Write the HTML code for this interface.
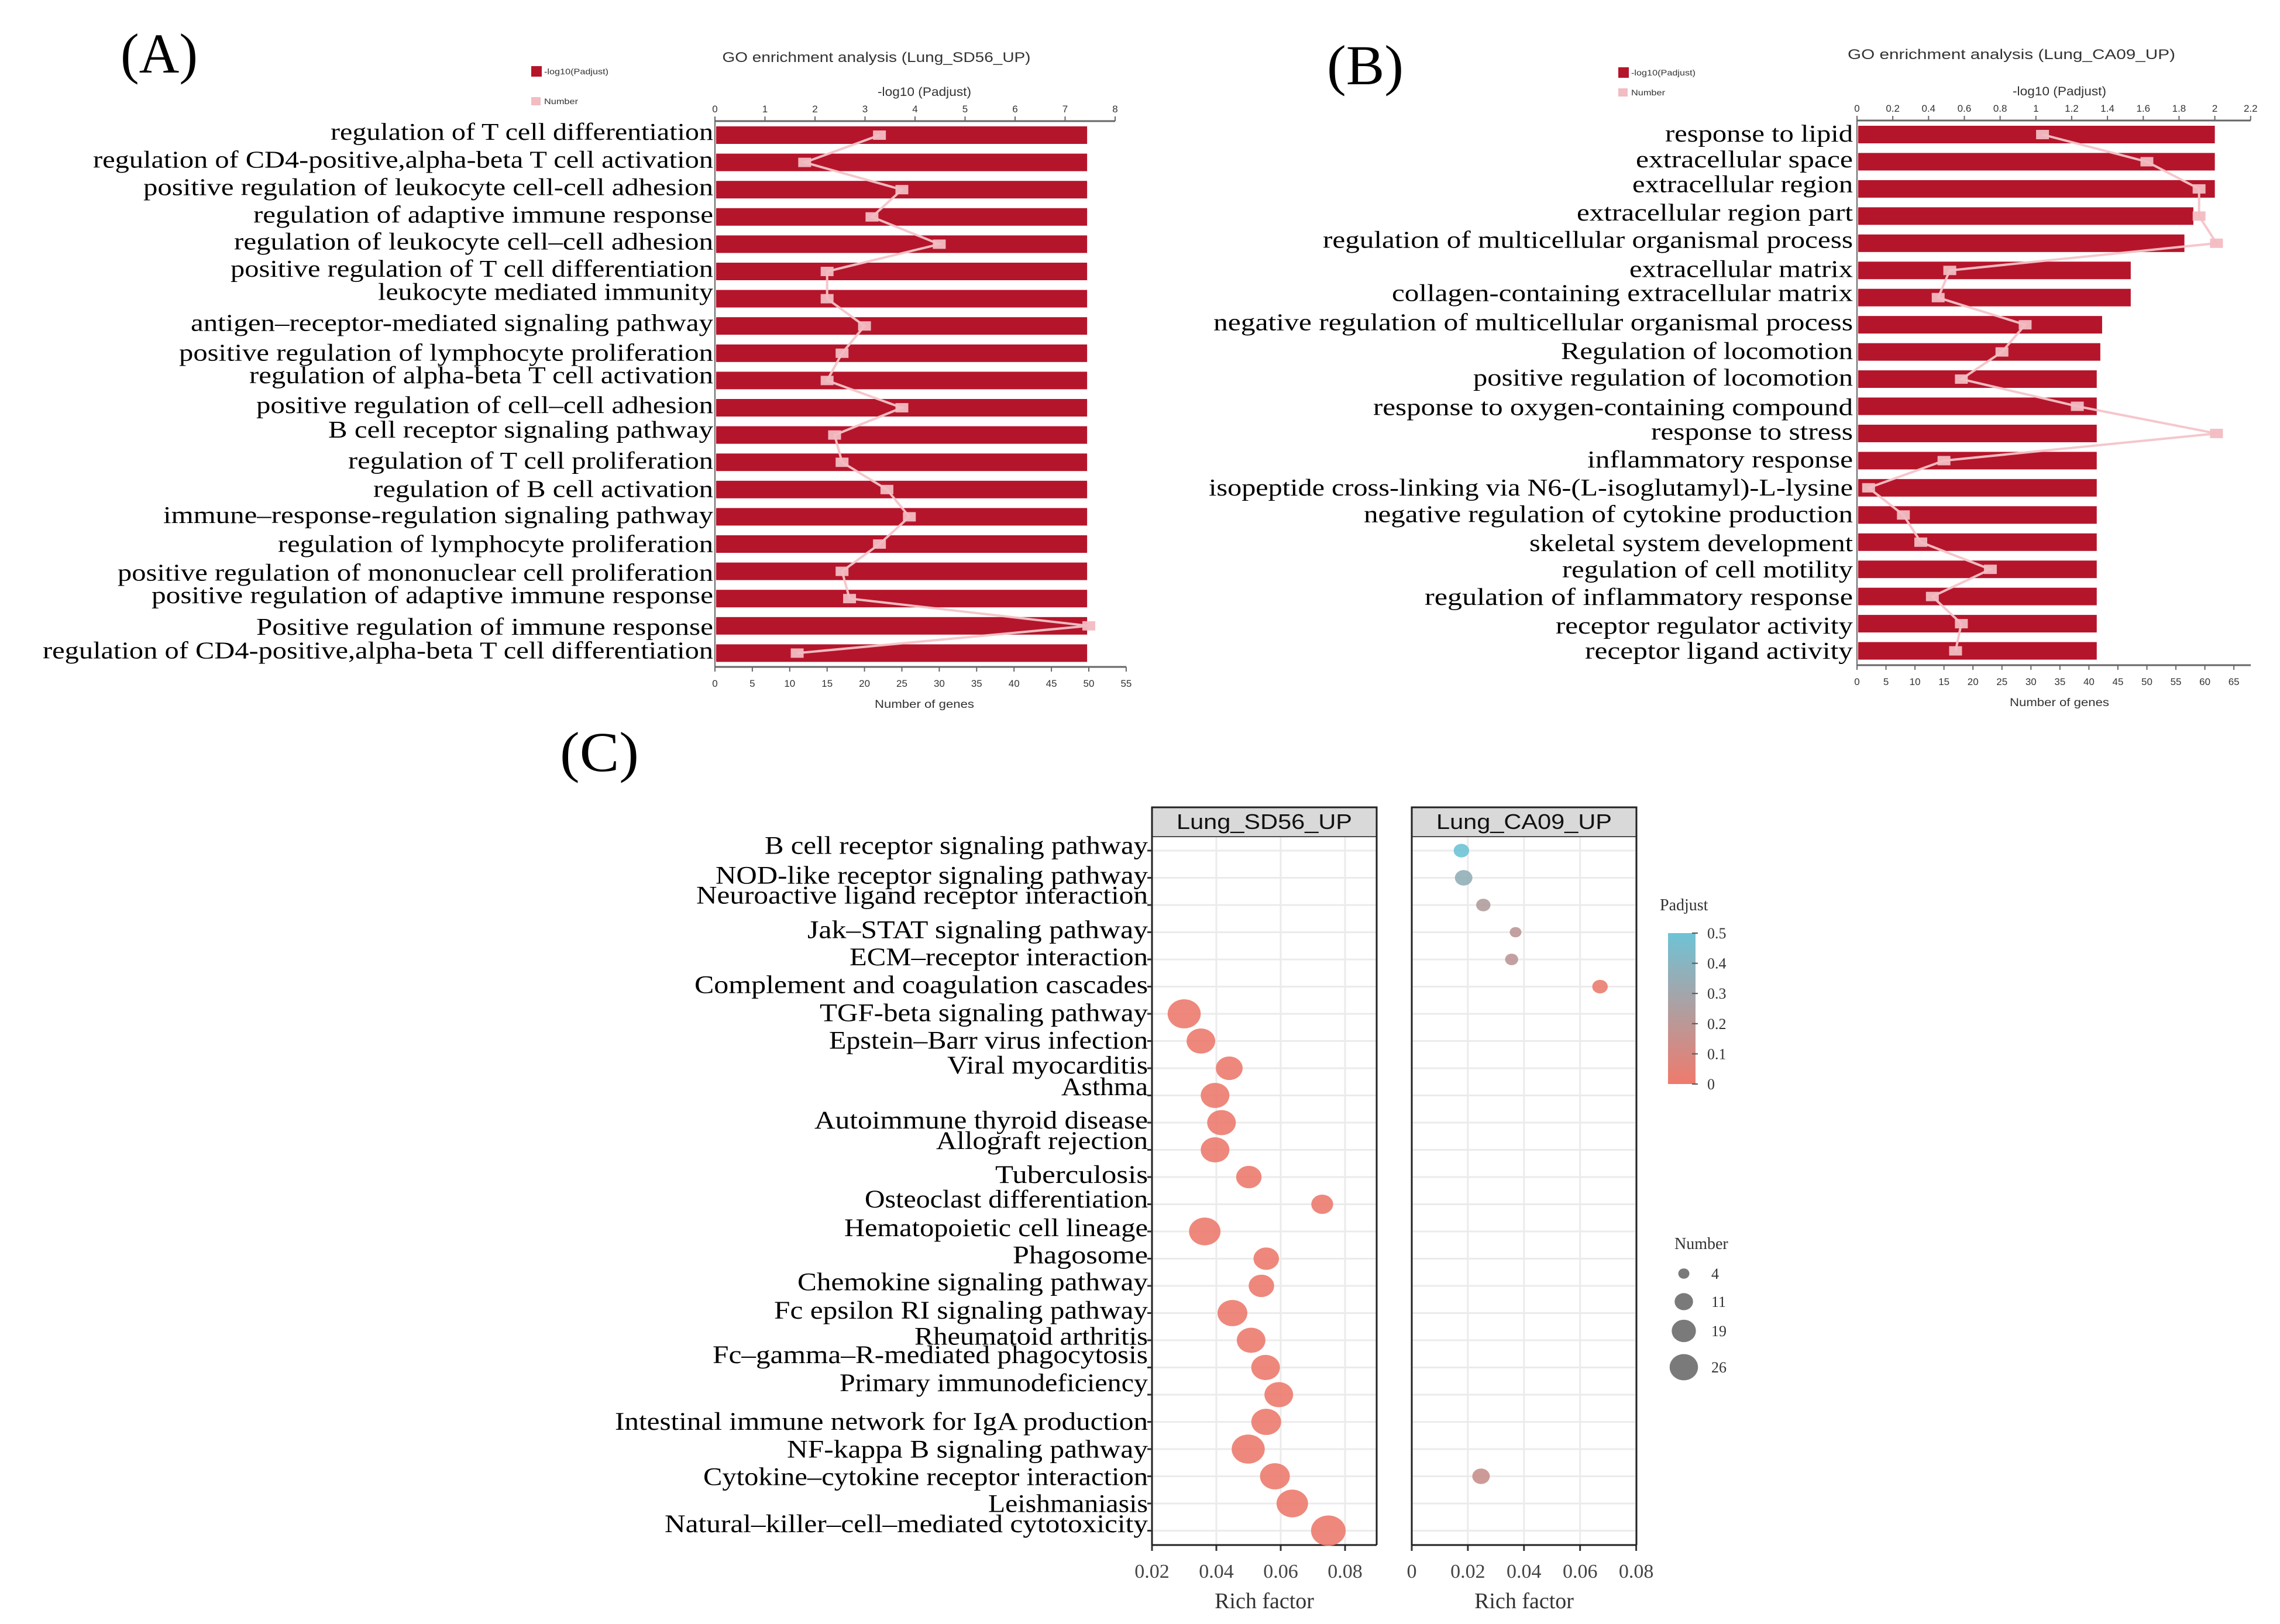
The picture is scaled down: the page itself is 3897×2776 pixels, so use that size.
<!DOCTYPE html>
<html><head><meta charset="utf-8"><style>
html,body{margin:0;padding:0;background:#fff;overflow:hidden;}
svg{display:block;}
</style></head><body>
<svg id="root" xmlns="http://www.w3.org/2000/svg" width="3897" height="2776" viewBox="0 0 3897 2776">
<rect x="0" y="0" width="3897" height="2776" fill="#fff"/>
<text x="206" y="124" font-family="Liberation Serif, serif" font-size="96" textLength="132" lengthAdjust="spacingAndGlyphs">(A)</text>
<text x="2268" y="144" font-family="Liberation Serif, serif" font-size="96" textLength="131" lengthAdjust="spacingAndGlyphs">(B)</text>
<text x="957" y="1318" font-family="Liberation Serif, serif" font-size="96" textLength="135" lengthAdjust="spacingAndGlyphs">(C)</text>
<g id="ga"></g>
<g id="gb"></g>
<g id="gc"></g>
</svg>
<script>
// ===== Panel A data =====
const termsA = ["regulation  of T cell  differentiation","regulation  of CD4-positive,alpha-beta  T cell activation","positive regulation  of leukocyte  cell-cell  adhesion","regulation  of adaptive immune  response","regulation  of leukocyte  cell\u2013cell  adhesion","positive regulation  of T cell  differentiation","leukocyte  mediated immunity","antigen\u2013receptor-mediated  signaling  pathway","positive regulation  of lymphocyte proliferation","regulation  of alpha-beta  T cell  activation","positive regulation  of cell\u2013cell  adhesion","B cell receptor signaling  pathway","regulation  of T cell  proliferation","regulation  of B cell  activation","immune\u2013response-regulation  signaling  pathway","regulation  of lymphocyte  proliferation","positive regulation  of mononuclear  cell proliferation","positive regulation  of adaptive immune  response","Positive regulation  of immune  response","regulation  of CD4-positive,alpha-beta  T cell differentiation"];
const logA = [7.44,7.44,7.44,7.44,7.44,7.44,7.44,7.44,7.44,7.44,7.44,7.44,7.44,7.44,7.44,7.44,7.44,7.44,7.44,7.44];
const numA = [22,12,25,21,30,15,15,20,17,15,25,16,17,23,26,22,17,18,50,11];
const logTicksA = [0,1,2,3,4,5,6,7,8];
const numTicksA = [0,5,10,15,20,25,30,35,40,45,50,55];
// ===== Panel B data =====
const termsB = ["response to lipid","extracellular  space","extracellular  region","extracellular  region part","regulation  of multicellular  organismal  process","extracellular  matrix","collagen-containing  extracellular  matrix","negative  regulation  of multicellular  organismal  process","Regulation  of locomotion","positive regulation  of locomotion","response to oxygen-containing  compound","response to stress","inflammatory  response","isopeptide cross-linking  via  N6-(L-isoglutamyl)-L-lysine","negative regulation  of cytokine production","skeletal  system development","regulation  of  cell motility","regulation  of  inflammatory  response","receptor regulator  activity","receptor ligand  activity"];
const logB = [2.0,2.0,2.0,1.88,1.83,1.53,1.53,1.37,1.36,1.34,1.34,1.34,1.34,1.34,1.34,1.34,1.34,1.34,1.34,1.34];
const numB = [32,50,59,59,62,16,14,29,25,18,38,62,15,2,8,11,23,13,18,17];
const logTicksB = [0,0.2,0.4,0.6,0.8,1,1.2,1.4,1.6,1.8,2,2.2];
const numTicksB = [0,5,10,15,20,25,30,35,40,45,50,55,60,65];
// ===== Panel C data =====
const pathways = ["B cell receptor signaling  pathway","NOD-like  receptor signaling  pathway","Neuroactive  ligand  receptor interaction","Jak\u2013STAT signaling  pathway","ECM\u2013receptor interaction","Complement  and coagulation  cascades","TGF-beta signaling  pathway","Epstein\u2013Barr virus infection","Viral  myocarditis","Asthma","Autoimmune  thyroid disease","Allograft  rejection","Tuberculosis","Osteoclast differentiation","Hematopoietic  cell  lineage","Phagosome","Chemokine  signaling  pathway","Fc epsilon  RI signaling  pathway","Rheumatoid  arthritis","Fc\u2013gamma\u2013R-mediated phagocytosis","Primary  immunodeficiency","Intestinal  immune  network for IgA  production","NF-kappa B signaling  pathway","Cytokine\u2013cytokine receptor interaction","Leishmaniasis","Natural\u2013killer\u2013cell\u2013mediated  cytotoxicity"];
const sdRows = [6,7,8,9,10,11,12,13,14,15,16,17,18,19,20,21,22,23,24,25];
const sdRich = [0.030,0.0352,0.044,0.0396,0.0416,0.0396,0.0501,0.0729,0.0364,0.0555,0.054,0.045,0.0508,0.0553,0.0594,0.0555,0.0499,0.0582,0.0636,0.0748];
const sdCount = [32,24,21,24,24,24,19,14,29,19,19,26,24,24,24,26,32,26,29,35];
const sdPadj = [0.01,0.01,0.01,0.01,0.01,0.01,0.01,0.01,0.01,0.01,0.01,0.01,0.01,0.01,0.01,0.01,0.01,0.01,0.01,0.01];
const caRows = [0,1,2,3,4,5,23];
const caRich = [0.0177,0.0185,0.0255,0.037,0.0356,0.0671,0.0247];
const caCount = [7,9,6,4,5,7,9];
const caPadj = [0.5,0.36,0.24,0.2,0.2,0.02,0.15];
const richTicksL = [0.02,0.04,0.06,0.08];
const richTicksR = [0,0.02,0.04,0.06,0.08];
const padjTicks = [0,0.1,0.2,0.3,0.4,0.5];
const sizeLegend = [4,11,19,26];

const NS="http://www.w3.org/2000/svg";
function mk(tag, attrs, parent, txt){const e=document.createElementNS(NS,tag);for(const k in attrs)e.setAttribute(k,attrs[k]);if(txt!==undefined)e.textContent=txt;parent.appendChild(e);return e;}
const SANS="Liberation Sans, sans-serif", SERIF="Liberation Serif, serif";

function barChart(g, cfg){
  const xLog=v=>cfg.x0+v*cfg.logU, xNum=v=>cfg.x0+v*cfg.numU, yRow=i=>cfg.y0+i*cfg.step;
  let el;
  el=mk('text',{x:cfg.titleX,y:cfg.titleY,'text-anchor':'middle','font-family':SANS,'font-size':24,textLength:cfg.titleW,lengthAdjust:'spacingAndGlyphs',fill:'#333'},g,cfg.title);
  
  
  el=mk('rect',{x:cfg.legX,y:cfg.legY-9,width:18,height:18,fill:'#B5152B'},g);
  
  
  el=mk('text',{x:cfg.legX+22,y:cfg.legY+5,'font-family':SANS,'font-size':14,textLength:110,lengthAdjust:'spacingAndGlyphs',fill:'#333'},g,'-log10(Padjust)');
  
  
  el=mk('rect',{x:cfg.legX,y:cfg.legY+cfg.legGap-7,width:16,height:14,fill:'#F2BCC2'},g);
  
  
  el=mk('text',{x:cfg.legX+22,y:cfg.legY+cfg.legGap+5,'font-family':SANS,'font-size':14,textLength:58,lengthAdjust:'spacingAndGlyphs',fill:'#333'},g,'Number');
  
  
  el=mk('text',{x:cfg.axTitleX,y:cfg.topAxY-43,'text-anchor':'middle','font-family':SANS,'font-size':21,textLength:160,lengthAdjust:'spacingAndGlyphs',fill:'#333'},g,'-log10 (Padjust)');
  
  
  el=mk('line',{x1:cfg.x0,x2:xLog(cfg.logTicks[cfg.logTicks.length-1]),y1:cfg.topAxY,y2:cfg.topAxY,stroke:'#666','stroke-width':3},g);
  
  
  cfg.logTicks.forEach(t=>{
    el=mk('line',{x1:xLog(t),x2:xLog(t),y1:cfg.topAxY-8,y2:cfg.topAxY,stroke:'#666','stroke-width':2},g);
    
    
    el=mk('text',{x:xLog(t),y:cfg.topAxY-15,'text-anchor':'middle','font-family':SANS,'font-size':17,fill:'#333'},g,String(t));
    
    
  });
  el=mk('line',{x1:cfg.x0,x2:cfg.botAxEnd,y1:cfg.botAxY,y2:cfg.botAxY,stroke:'#666','stroke-width':3},g);
  
  
  cfg.numTicks.forEach(t=>{
    el=mk('line',{x1:xNum(t),x2:xNum(t),y1:cfg.botAxY,y2:cfg.botAxY+8,stroke:'#666','stroke-width':2},g);
    
    
    el=mk('text',{x:xNum(t),y:cfg.botAxY+34,'text-anchor':'middle','font-family':SANS,'font-size':17,fill:'#333'},g,String(t));
    
    
  });
  el=mk('text',{x:cfg.axTitleX,y:cfg.botAxY+70,'text-anchor':'middle','font-family':SANS,'font-size':19,textLength:170,lengthAdjust:'spacingAndGlyphs',fill:'#333'},g,'Number of genes');
  
  
  el=mk('line',{x1:cfg.x0,x2:cfg.x0,y1:cfg.topAxY,y2:cfg.botAxY,stroke:'#666','stroke-width':2},g);
  
  
  cfg.terms.forEach((t,i)=>{
    el=mk('rect',{x:cfg.x0+2,y:yRow(i)-15,width:xLog(cfg.logs[i])-cfg.x0-2,height:30,fill:'#B5152B'},g);
    
    
    const w=cfg.labelEnd-cfg.labelStart[i];
    el=mk('text',{x:cfg.labelEnd,y:yRow(i)+cfg.labelDy[i]*0.63+12,'text-anchor':'end','font-family':SERIF,'font-size':41,textLength:w,lengthAdjust:'spacingAndGlyphs',fill:'#000'},g,t);
    
    
  });
  const pts=cfg.nums.map((n,i)=>xNum(n)+','+yRow(i)).join(' ');
  el=mk('polyline',{points:pts,fill:'none',stroke:'#F4C4C8','stroke-width':4,opacity:0.95},g);
  
  
  cfg.nums.forEach((n,i)=>{
    el=mk('rect',{x:xNum(n)-11,y:yRow(i)-8,width:22,height:16,fill:'#F2BCC2',opacity:0.95},g);
    
    
  });
}

barChart(document.getElementById('ga'),{
  title:'GO enrichment analysis (Lung_SD56_UP)',titleX:1498,titleY:106,titleW:527,
  legX:908,legY:122,legGap:51,axTitleX:1580,
  x0:1222,logU:85.5,numU:12.78,y0:231,step:46.6,topAxY:207,botAxY:1140,botAxEnd:1925,
  logTicks:logTicksA,numTicks:numTicksA,terms:termsA,logs:logA,nums:numA,
  labelEnd:1219,
  labelStart:[565,159,245,433,400,394,646,326,306,426,438,561,595,638,279,475,201,259,438,73],
  labelDy:[-6,-5,-4,-4,-5,-5,-16,-6,1,-12,-5,-12,-2,1,-2,2,6,-7,5,-5]
});
barChart(document.getElementById('gb'),{
  title:'GO enrichment analysis (Lung_CA09_UP)',titleX:3438,titleY:101,titleW:560,
  legX:2766,legY:124,legGap:34,axTitleX:3520,
  x0:3174,logU:305.8,numU:9.91,y0:230,step:46.45,topAxY:206,botAxY:1137,botAxEnd:3847,
  logTicks:logTicksB,numTicks:numTicksB,terms:termsB,logs:logB,nums:numB,
  labelEnd:3167,
  labelStart:[2846,2796,2790,2695,2261,2785,2379,2074,2668,2518,2347,2822,2713,2066,2331,2614,2670,2435,2659,2709],
  labelDy:[0,-4,-10,-7,-7,-1,-10,-4,0,-2,5,-2,-1,2,0,5,3,4,8,2]
});

(function(){
  const g=document.getElementById('gc');
  const PL={x0:1969,x1:2353}, PR={x0:2413,x1:2797};
  const top=1431, bot=2641, stripTop=1380;
  const xL=r=>PL.x0+(r-0.02)/0.02*110;
  const xR=r=>PR.x0+r/0.02*95.9;
  const yC=i=>1454+i*46.5;
  const rad=n=>5.0*Math.sqrt(n);
  const lo=[239,122,108], hi=[110,195,214];
  const col=p=>{const t=Math.max(0,Math.min(1,p/0.5));return 'rgb('+lo.map((c,k)=>Math.round(c+(hi[k]-c)*t)).join(',')+')';};
  let el;
  [[PL,xL,richTicksL,'Lung_SD56_UP','left'],[PR,xR,richTicksR,'Lung_CA09_UP','right']].forEach(([P,xf,ticks,name,side])=>{
    el=mk('rect',{x:P.x0,y:stripTop,width:P.x1-P.x0,height:top-stripTop,fill:'#D9D9D9',stroke:'#222','stroke-width':3},g);
    
    
    el=mk('text',{x:(P.x0+P.x1)/2,y:stripTop+37,'text-anchor':'middle','font-family':SANS,'font-size':36,textLength:300,lengthAdjust:'spacingAndGlyphs',fill:'#111'},g,name);
    
    
    el=mk('rect',{x:P.x0,y:top,width:P.x1-P.x0,height:bot-top,fill:'#fff'},g);
    
    
    pathways.forEach((p,i)=>{
      el=mk('line',{x1:P.x0,x2:P.x1,y1:yC(i),y2:yC(i),stroke:'#EBEBEB','stroke-width':3},g);
      
      
    });
    ticks.forEach(t=>{
      el=mk('line',{x1:xf(t),x2:xf(t),y1:top,y2:bot,stroke:'#EBEBEB','stroke-width':3},g);
      
      
      el=mk('line',{x1:xf(t),x2:xf(t),y1:bot,y2:bot+10,stroke:'#333','stroke-width':3},g);
      
      
      el=mk('text',{x:xf(t),y:bot+56,'text-anchor':'middle','font-family':SERIF,'font-size':34,fill:'#444'},g,String(t));
      
      
    });
    el=mk('text',{x:(P.x0+P.x1)/2,y:bot+108,'text-anchor':'middle','font-family':SERIF,'font-size':38,fill:'#333'},g,'Rich factor');
    
    
    el=mk('line',{x1:P.x0,x2:P.x0,y1:top,y2:bot,stroke:'#222','stroke-width':3},g);
    
    
    el=mk('line',{x1:P.x1,x2:P.x1,y1:top,y2:bot,stroke:'#222','stroke-width':3},g);
    
    
    el=mk('line',{x1:P.x0,x2:P.x1,y1:bot,y2:bot,stroke:'#222','stroke-width':3},g);
    
    
  });
  const labStart=[1307,1223,1190,1380,1452,1187,1401,1417,1619,1814,1392,1600,1701,1478,1443,1731,1363,1323,1563,1218,1435,1051,1345,1202,1689,1136];
  const labDy=[-11,-4,-22,-4,-4,-3,-1,0,-6,-19,-4,-21,-4,-11,-7,-7,-8,-5,-8,-29,-27,1,2,3,2,-15];
  pathways.forEach((p,i)=>{
    el=mk('line',{x1:PL.x0-8,x2:PL.x0,y1:yC(i),y2:yC(i),stroke:'#333','stroke-width':3},g);
    
    
    el=mk('text',{x:1962,y:yC(i)+labDy[i]*0.7+13,'text-anchor':'end','font-family':SERIF,'font-size':43,textLength:1962-labStart[i],lengthAdjust:'spacingAndGlyphs',fill:'#000'},g,p);
    
    
  });
  sdRows.forEach((r,k)=>{
    el=mk('ellipse',{cx:xL(sdRich[k]),cy:yC(r),rx:rad(sdCount[k]),ry:rad(sdCount[k])*0.88,fill:col(sdPadj[k]),opacity:0.9},g);
    
    
  });
  caRows.forEach((r,k)=>{
    el=mk('ellipse',{cx:xR(caRich[k]),cy:yC(r),rx:rad(caCount[k]),ry:rad(caCount[k])*0.88,fill:col(caPadj[k]),opacity:0.9},g);
    
    
  });
  const defs=mk('defs',{},g);
  const lg=mk('linearGradient',{id:'padjGrad',x1:0,y1:1,x2:0,y2:0},defs);
  mk('stop',{offset:'0','stop-color':col(0)},lg);
  mk('stop',{offset:'0.5','stop-color':col(0.25)},lg);
  mk('stop',{offset:'1','stop-color':col(0.5)},lg);
  el=mk('text',{x:2837,y:1556,'font-family':SERIF,'font-size':28,fill:'#333'},g,'Padjust');
  
  
  const cbTop=1595, cbBot=1853, cbX=2851, cbW=47;
  const yP=p=>cbBot-(p/0.5)*(cbBot-cbTop);
  el=mk('rect',{x:cbX,y:cbTop,width:cbW,height:cbBot-cbTop,fill:'url(#padjGrad)'},g);
  
  
  padjTicks.forEach(t=>{
    el=mk('line',{x1:cbX+cbW-6,x2:cbX+cbW+4,y1:yP(t),y2:yP(t),stroke:'#555','stroke-width':2},g);
    
    
    el=mk('text',{x:2918,y:yP(t)+9,'font-family':SERIF,'font-size':26,fill:'#333'},g,String(t));
    
    
  });
  el=mk('text',{x:2862,y:2135,'font-family':SERIF,'font-size':28,fill:'#333'},g,'Number');
  
  
  const sy=[2177,2225,2275,2337];
  sizeLegend.forEach((n,k)=>{
    el=mk('ellipse',{cx:2878,cy:sy[k],rx:rad(n)*0.95,ry:rad(n)*0.88,fill:'#7a7a7a'},g);
    
    
    el=mk('text',{x:2925,y:sy[k]+9,'font-family':SERIF,'font-size':26,fill:'#333'},g,String(n));
    
    
  });
})();
</script>
</body></html>
